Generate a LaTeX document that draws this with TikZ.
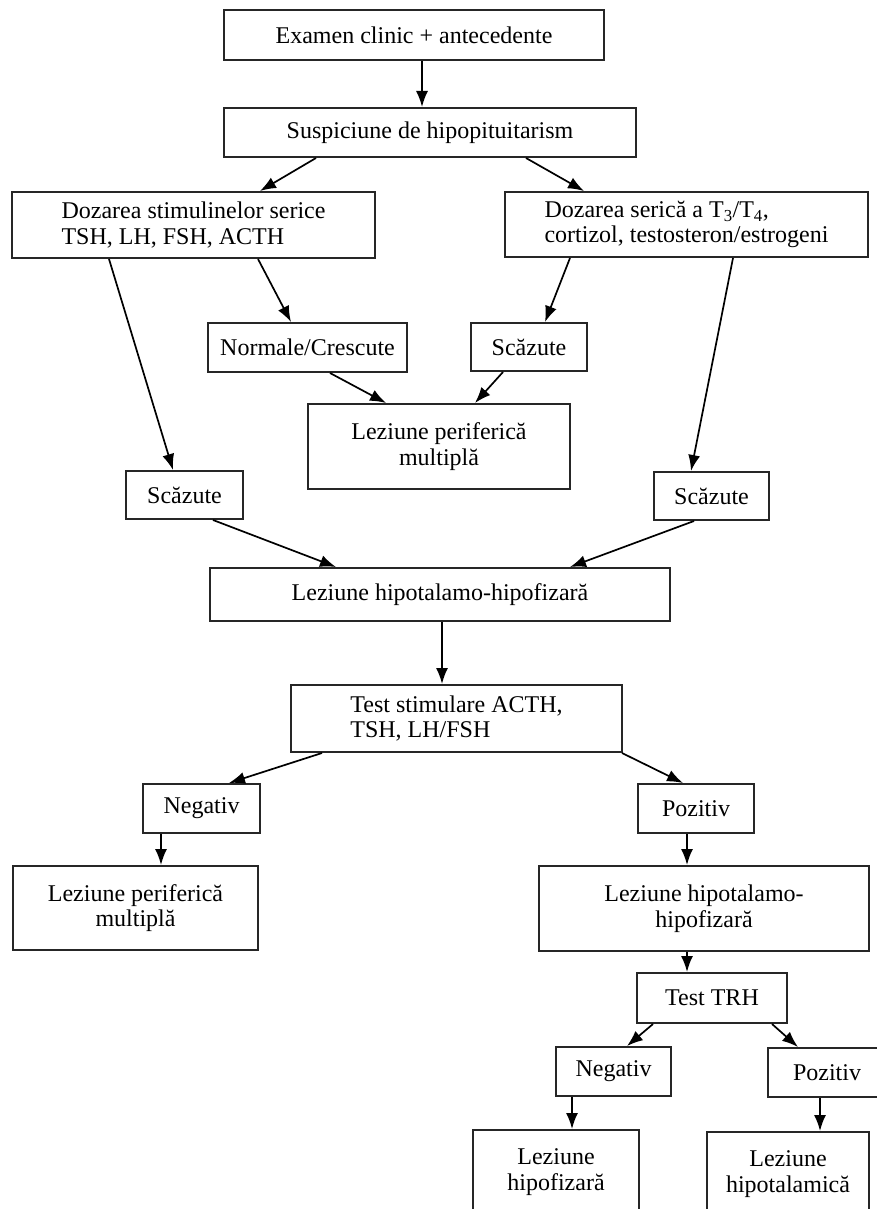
\documentclass[tikz,border=0pt]{standalone}
\usepackage{fontspec}
\setmainfont{Liberation Serif}
\usetikzlibrary{arrows.meta}

\begin{document}
\begin{tikzpicture}[x=1pt,y=-1pt,
  box/.style={draw=black!85, line width=2pt, fill=white, inner sep=0pt,
    align=center, font=\fontsize{24}{25.5}\selectfont},
  lbox/.style={box, align=left},
  conn/.style={line width=1.7pt, -{Latex[length=16pt,width=12pt]}}]

\useasboundingbox (0,0) rectangle (877,1209);
\clip (0,0) rectangle (877,1209);

% boxes: centre, then width and height
\node[box, minimum width=380, minimum height=50] (exam) at (414,35) {Examen clinic + antecedente};
\node[box, minimum width=412, minimum height=49] (susp) at (430,132.5) {Suspiciune de hipopituitarism};
\node[lbox, minimum width=363, minimum height=66] (dozL) at (193.5,225) {Dozarea stimulinelor serice\\TSH, LH, FSH, ACTH};
\node[lbox, minimum width=363, minimum height=65] (dozR) at (686.5,224.5) {Dozarea serică a T\textsubscript{3}/T\textsubscript{4},\\cortizol, testosteron/estrogeni};
\node[box, minimum width=199, minimum height=49] (norm) at (307.5,347.5) {Normale/Crescute};
\node[box, minimum width=116, minimum height=48] (scM) at (529,347) {Scăzute};
\node[box, minimum width=262, minimum height=85] (lezM) at (439,446.5) {Leziune periferică\\multiplă};
\node[box, minimum width=117, minimum height=48] (scL) at (184.5,495) {Scăzute};
\node[box, minimum width=115, minimum height=48] (scR) at (711.5,496) {Scăzute};
\node[box, minimum width=460, minimum height=53] (lezHH) at (440,594.5) {Leziune hipotalamo-hipofizară};
\node[lbox, minimum width=331, minimum height=67] (test) at (456.5,718.5) {Test stimulare ACTH,\\TSH, LH/FSH};
\node[box, minimum width=117, minimum height=49] (negL) at (201.5,808.5) {Negativ};
\node[box, minimum width=116, minimum height=49] (pozR) at (696,808.5) {Pozitiv};
\node[box, minimum width=245, minimum height=84] (lezPL) at (135.5,908) {Leziune periferică\\multiplă};
\node[box, minimum width=330, minimum height=85] (lezHR) at (704,908.5) {Leziune hipotalamo-\\hipofizară};
\node[box, minimum width=150, minimum height=50] (trh) at (712,998) {Test TRH};
\node[box, minimum width=115, minimum height=49] (negB) at (613.5,1071.5) {Negativ};
\node[box, minimum width=118, minimum height=49] (pozB) at (827,1072.5) {Pozitiv};
\node[box, minimum width=166, minimum height=84] (lezHf) at (556,1172) {Leziune\\hipofizară};
\node[box, minimum width=162, minimum height=84] (lezHt) at (788,1174) {Leziune\\hipotalamică};

% connectors
\draw[conn] ([xshift=8]exam.south) -- ([xshift=-8]susp.north);
\draw[conn] ([xshift=-114]susp.south) -- ([xshift=66.5]dozL.north);
\draw[conn] ([xshift=96]susp.south) -- ([xshift=-102.5]dozR.north);
\draw[conn] ([xshift=-84.5]dozL.south) -- ([xshift=-11.5]scL.north);
\draw[conn] ([xshift=64.5]dozL.south) -- ([xshift=-16.5]norm.north);
\draw[conn] ([xshift=-116.5]dozR.south) -- ([xshift=16]scM.north);
\draw[conn] ([xshift=46.5]dozR.south) -- ([xshift=-20.5]scR.north);
\draw[conn] ([xshift=22.5]norm.south) -- ([xshift=-53]lezM.north);
\draw[conn] ([xshift=-26]scM.south) -- ([xshift=36]lezM.north);
\draw[conn] ([xshift=28.5]scL.south) -- ([xshift=-104]lezHH.north);
\draw[conn] ([xshift=-17.5]scR.south) -- ([xshift=130]lezHH.north);
\draw[conn] ([xshift=2]lezHH.south) -- ([xshift=-14.5]test.north);
\draw[conn] ([xshift=-134.5]test.south) -- ([xshift=27.5]negL.north);
\draw[conn] ([xshift=165.5]test.south) -- ([xshift=-13]pozR.north);
\draw[conn] ([xshift=-40.5]negL.south) -- ([xshift=25.5]lezPL.north);
\draw[conn] ([xshift=-9]pozR.south) -- ([xshift=-17]lezHR.north);
\draw[conn] ([xshift=-17]lezHR.south) -- ([xshift=-25]trh.north);
\draw[conn] ([xshift=-59]trh.south) -- ([xshift=13.5]negB.north);
\draw[conn] ([xshift=60]trh.south) -- ([xshift=-29]pozB.north);
\draw[conn] ([xshift=-41.5]negB.south) -- ([xshift=16]lezHf.north);
\draw[conn] ([xshift=-7]pozB.south) -- ([xshift=32]lezHt.north);
\end{tikzpicture}
\end{document}
